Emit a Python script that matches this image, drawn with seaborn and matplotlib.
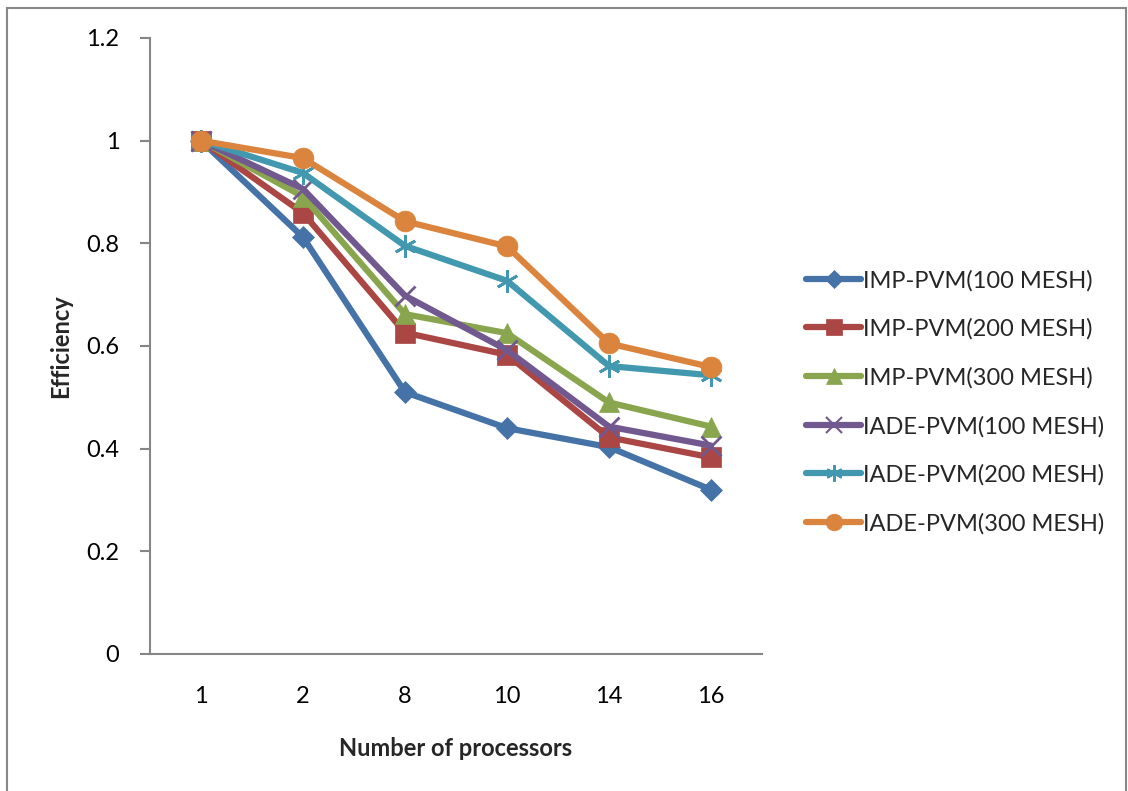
import matplotlib
matplotlib.use("Agg")
import matplotlib.pyplot as plt
import matplotlib.lines as mlines
import seaborn as sns
import pandas as pd

processors = ["1", "2", "8", "10", "14", "16"]
series_names = [
    "IMP-PVM(100 MESH)",
    "IMP-PVM(200 MESH)",
    "IMP-PVM(300 MESH)",
    "IADE-PVM(100 MESH)",
    "IADE-PVM(200 MESH)",
    "IADE-PVM(300 MESH)",
]
imp_100 = [1.0, 0.812, 0.510, 0.440, 0.403, 0.320]
imp_200 = [1.0, 0.859, 0.626, 0.583, 0.422, 0.383]
imp_300 = [1.0, 0.891, 0.662, 0.625, 0.490, 0.443]
iade_100 = [1.0, 0.906, 0.698, 0.592, 0.443, 0.406]
iade_200 = [1.0, 0.937, 0.795, 0.727, 0.561, 0.543]
iade_300 = [1.0, 0.966, 0.843, 0.794, 0.605, 0.559]
all_values = [imp_100, imp_200, imp_300, iade_100, iade_200, iade_300]

colors = ["#4572A7", "#AA4643", "#89A54E", "#71588F", "#4198AF", "#DB843D"]
markers = ["D", "s", "^", "x", (6, 2, 0), "o"]
msizes = [11, 14, 14, 14, 16, 15]
leg_sizes = [9, 11, 11, 11, 12, 12]

sns.set_theme(style="white")
plt.rcParams["font.family"] = ["Lato", "DejaVu Sans"]

FS = 17

fig = plt.figure(figsize=(11.28, 7.91), dpi=100)
ax = fig.add_axes([150 / 1128, 1 - 654 / 791, 612 / 1128, (654 - 38) / 791])

df = pd.DataFrame(
    [(name, p, v) for name, vals in zip(series_names, all_values) for p, v in zip(processors, vals)],
    columns=["series", "procs", "eff"],
)
df["pos"] = df["procs"].map({p: i for i, p in enumerate(processors)})

handles = []
for name, c, m, ms, lms in zip(series_names, colors, markers, msizes, leg_sizes):
    sub = df[df["series"] == name]
    hollow = m == "x" or isinstance(m, tuple)
    mew = 2 if hollow else 0.5
    sns.lineplot(
        data=sub, x="pos", y="eff", ax=ax, color=c, linewidth=4.5,
        marker=m, markersize=ms, markeredgecolor=c, markeredgewidth=mew,
        legend=False, solid_joinstyle="round", solid_capstyle="round",
    )
    handles.append(mlines.Line2D([], [], color=c, linewidth=4.5, marker=m,
                                 markersize=lms, markeredgecolor=c,
                                 markeredgewidth=1.5 if hollow else 0.5,
                                 solid_capstyle="round", label=name))

ax.set_xlim(-0.5, len(processors) - 0.5)
ax.set_ylim(0, 1.2)
ax.set_xticks(range(len(processors)))
ax.set_xticklabels(processors)
ax.set_yticks([0, 0.2, 0.4, 0.6, 0.8, 1.0, 1.2])
ax.set_yticklabels(["0", "0.2", "0.4", "0.6", "0.8", "1", "1.2"])

for side in ("top", "right"):
    ax.spines[side].set_visible(False)
for side in ("left", "bottom"):
    ax.spines[side].set_color("#868686")
    ax.spines[side].set_linewidth(1.5)

ax.tick_params(axis="y", direction="out", length=7, width=1.5, color="#868686",
               pad=15, labelsize=FS, labelcolor="black", left=True)
ax.tick_params(axis="x", length=0, pad=23, labelsize=FS, labelcolor="black")

ax.set_xlabel("Number of processors", fontsize=FS, fontweight="bold", labelpad=22)
ax.set_ylabel("Efficiency", fontsize=FS, fontweight="bold", labelpad=10)

fig.legend(handles=handles, loc="center left", bbox_to_anchor=(797 / 1128, 1 - 402 / 791),
           frameon=False, fontsize=FS, handlelength=2.3, labelspacing=1.15,
           handletextpad=0.1, borderaxespad=0)

# outer chart frame
fig.add_artist(plt.Rectangle((7 / 1128, -0.05), (1126 - 7) / 1128, 1 - 8 / 791 + 0.05,
                             transform=fig.transFigure, fill=False,
                             edgecolor="#888888", linewidth=1.5))

fig.savefig("out.png", dpi=100, facecolor="white")
